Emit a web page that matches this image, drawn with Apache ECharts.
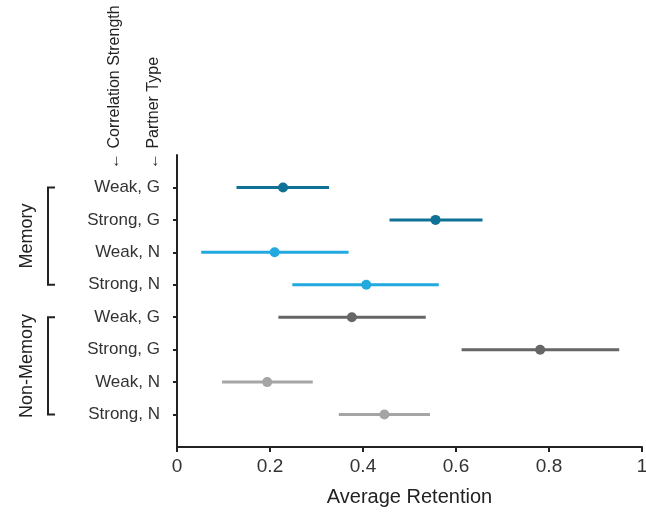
<!DOCTYPE html>
<html>
<head>
<meta charset="utf-8">
<script src="https://cdn.jsdelivr.net/npm/echarts@6/dist/echarts.min.js"></script>
<style>html,body{margin:0;padding:0;background:#fff}#c{width:646px;height:516px}</style>
</head>
<body>
<div id="c"></div>
<script>
// Row labels (top to bottom)
var categories = ['Weak, G', 'Strong, G', 'Weak, N', 'Strong, N', 'Weak, G', 'Strong, G', 'Weak, N', 'Strong, N'];
// Group of each row
var groups = ['Memory', 'Memory', 'Memory', 'Memory', 'Non-Memory', 'Non-Memory', 'Non-Memory', 'Non-Memory'];
// Mean retention
var means = [0.228, 0.556, 0.210, 0.407, 0.376, 0.781, 0.194, 0.446];
// Interval lower / upper bounds
var lows = [0.128, 0.457, 0.052, 0.248, 0.218, 0.612, 0.097, 0.348];
var highs = [0.327, 0.657, 0.369, 0.563, 0.535, 0.951, 0.292, 0.544];
// Colour per row
var colors = ['#0f7196', '#0f7196', '#22a9df', '#22a9df', '#666666', '#666666', '#a5a5a5', '#a5a5a5'];
// X tick labels
var xTicks = [0, 0.2, 0.4, 0.6, 0.8, 1];

var FONT = 'Liberation Sans, Arial, Helvetica, sans-serif';
// padded category list: blank slot above and below the rows
var yCats = [''].concat(categories).concat(['']);

var data = categories.map(function (c, i) {
  return [lows[i], highs[i], means[i], i + 1];
});

var chart = echarts.init(document.getElementById('c'));
var option = {
  animation: false,
  grid: { left: 177, right: 4, top: 155, bottom: 69, containLabel: false, outerBoundsMode: 'none' },
  xAxis: {
    type: 'value', min: 0, max: 1, interval: 0.2,
    name: 'Average Retention', nameLocation: 'middle', nameGap: 40,
    nameTextStyle: { fontFamily: FONT, fontSize: 20, color: '#222' },
    axisLine: { show: true, onZero: false, lineStyle: { color: '#222', width: 2 } },
    axisTick: { show: true, length: 5, lineStyle: { color: '#222', width: 2 } },
    axisLabel: {
      fontFamily: FONT, fontSize: 19, color: '#333', margin: 10,
      formatter: function (v) {
        for (var k = 0; k < xTicks.length; k++) if (Math.abs(xTicks[k] - v) < 1e-9) return String(xTicks[k]);
        return '';
      }
    },
    splitLine: { show: false }
  },
  yAxis: {
    type: 'category', data: yCats, inverse: true, boundaryGap: false,
    axisLine: { show: true, lineStyle: { color: '#222', width: 2 } },
    axisTick: {
      show: true, length: 4, lineStyle: { color: '#222', width: 2 },
      interval: function (idx) { return idx > 0 && idx < yCats.length - 1; }
    },
    axisLabel: {
      fontFamily: FONT, fontSize: 17, color: '#333', margin: 17,
      interval: function (idx) { return idx > 0 && idx < yCats.length - 1; }
    },
    splitLine: { show: false }
  },
  series: [{
    type: 'custom',
    data: data,
    encode: { x: [0, 1, 2], y: 3 },
    renderItem: function (params, api) {
      var i = params.dataIndex;
      var y = api.value(3);
      var p1 = api.coord([api.value(0), y]);
      var p2 = api.coord([api.value(1), y]);
      var pm = api.coord([api.value(2), y]);
      var col = colors[i];
      return {
        type: 'group',
        children: [
          { type: 'line', shape: { x1: p1[0], y1: p1[1], x2: p2[0], y2: p2[1] }, style: { stroke: col, lineWidth: 3 } },
          { type: 'circle', shape: { cx: pm[0], cy: pm[1], r: 5 }, style: { fill: col } }
        ]
      };
    }
  }]
};
chart.setOption(option);

// Group brackets and header annotations placed from axis positions
function yPix(i) { return chart.convertToPixel({ gridIndex: 0 }, [0, i + 1])[1]; }
var graphics = [];
var groupNames = [];
groups.forEach(function (g) { if (groupNames.indexOf(g) < 0) groupNames.push(g); });
groupNames.forEach(function (g) {
  var first = groups.indexOf(g), last = groups.lastIndexOf(g);
  var y1 = yPix(first), y2 = yPix(last);
  graphics.push({
    type: 'polyline',
    shape: { points: [[55, y1], [48, y1], [48, y2], [55, y2]] },
    style: { stroke: '#222', lineWidth: 2, fill: null }
  });
  graphics.push({
    type: 'text', x: 27, y: (y1 + y2) / 2, rotation: Math.PI / 2,
    style: { text: g, font: '18px ' + FONT, fill: '#222', align: 'center', verticalAlign: 'middle' }
  });
});
graphics.push({
  type: 'text', x: 115, y: 169, rotation: Math.PI / 2,
  style: { text: '\u2190 Correlation Strength', font: '16px ' + FONT, fill: '#222', align: 'left', verticalAlign: 'middle' }
});
graphics.push({
  type: 'text', x: 154, y: 169, rotation: Math.PI / 2,
  style: { text: '\u2190 Partner Type', font: '16px ' + FONT, fill: '#222', align: 'left', verticalAlign: 'middle' }
});
chart.setOption({ graphic: graphics });
</script>
</body>
</html>
